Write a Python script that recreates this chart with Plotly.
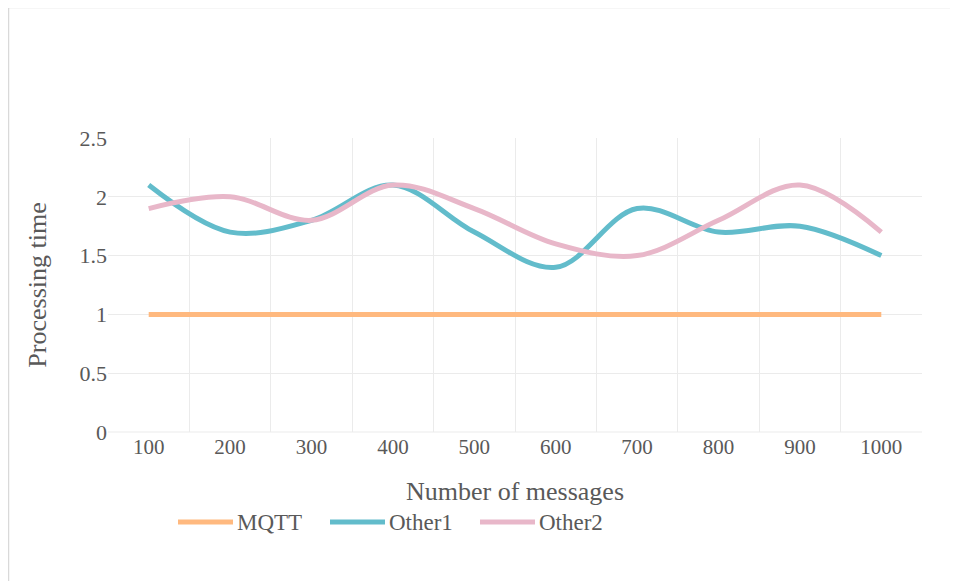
import plotly.graph_objects as go

categories = ["100", "200", "300", "400", "500", "600", "700", "800", "900", "1000"]
mqtt = [1, 1, 1, 1, 1, 1, 1, 1, 1, 1]
other1 = [2.1, 1.7, 1.8, 2.1, 1.7, 1.4, 1.9, 1.7, 1.75, 1.5]
other2 = [1.9, 2.0, 1.8, 2.1, 1.9, 1.6, 1.5, 1.8, 2.1, 1.7]
series_names = ["MQTT", "Other1", "Other2"]
series_colors = ["#FFB97F", "#62BCCB", "#E8B7C9"]

OFF = 8  # page body margin
W, H = 958 - OFF, 581 - OFF
L, R, T, B = 108 - OFF, 922 - OFF, 138 - OFF, 432 - OFF

font_family = "Liberation Serif, Times New Roman, serif"
txt_color = "#595959"

fig = go.Figure()
for name, vals, col in zip(series_names, [mqtt, other1, other2], series_colors):
    fig.add_trace(go.Scatter(
        x=categories, y=vals, name=name, mode="lines", showlegend=False,
        line=dict(color=col, width=5, shape="spline", smoothing=1.0),
    ))

def px_x(p):
    return (p - OFF - L) / (R - L)

def px_y(p):
    return (B - (p - OFF)) / (B - T)

shapes = [
    dict(type="rect", xref="paper", yref="paper",
         x0=px_x(8.5), y0=px_y(640), x1=px_x(1000), y1=px_y(7.5),
         line=dict(color="#D9D9D9", width=1.5), fillcolor="rgba(0,0,0,0)", layer="below"),
    dict(type="line", xref="paper", yref="paper", x0=0, x1=1, y0=0, y1=0,
         line=dict(color="#EBEBEB", width=1), layer="below"),
]
annotations = []
# custom legend (Excel-style long line samples)
leg_y = 522
leg_starts = [178, 330, 480]
for name, col, x0 in zip(series_names, series_colors, leg_starts):
    shapes.append(dict(type="line", xref="paper", yref="paper",
                       x0=px_x(x0), x1=px_x(x0 + 55), y0=px_y(leg_y), y1=px_y(leg_y),
                       line=dict(color=col, width=5)))
    annotations.append(dict(xref="paper", yref="paper", x=px_x(x0 + 57), y=px_y(leg_y),
                            text=name, showarrow=False, xanchor="left", yanchor="middle",
                            font=dict(size=23, color=txt_color, family=font_family)))

fig.update_layout(
    width=W, height=H,
    margin=dict(l=L, r=W - R, t=T, b=H - B, pad=0),
    paper_bgcolor="white", plot_bgcolor="white",
    font=dict(family=font_family, color=txt_color),
    showlegend=False,
    xaxis=dict(
        type="category", range=[-0.5, 9.5], tickson="boundaries",
        showgrid=True, gridcolor="#EBEBEB", gridwidth=1,
        showline=False, zeroline=False, ticks="", ticklen=0,
        tickfont=dict(size=21, color=txt_color, family=font_family),
        title=dict(text="Number of messages", font=dict(size=26, color=txt_color, family=font_family), standoff=23),
        fixedrange=True,
    ),
    yaxis=dict(
        range=[0, 2.5], tickvals=[0, 0.5, 1, 1.5, 2, 2.5], ticktext=["0", "0.5", "1", "1.5", "2", "2.5"],
        showgrid=True, gridcolor="#EBEBEB", gridwidth=1,
        showline=False, zeroline=False, ticks="", ticklen=0,
        tickfont=dict(size=22, color=txt_color, family=font_family),
        title=dict(text="Processing time", font=dict(size=26, color=txt_color, family=font_family), standoff=25),
        fixedrange=True,
    ),
    shapes=shapes,
    annotations=annotations,
)

fig.write_html("out.html")
